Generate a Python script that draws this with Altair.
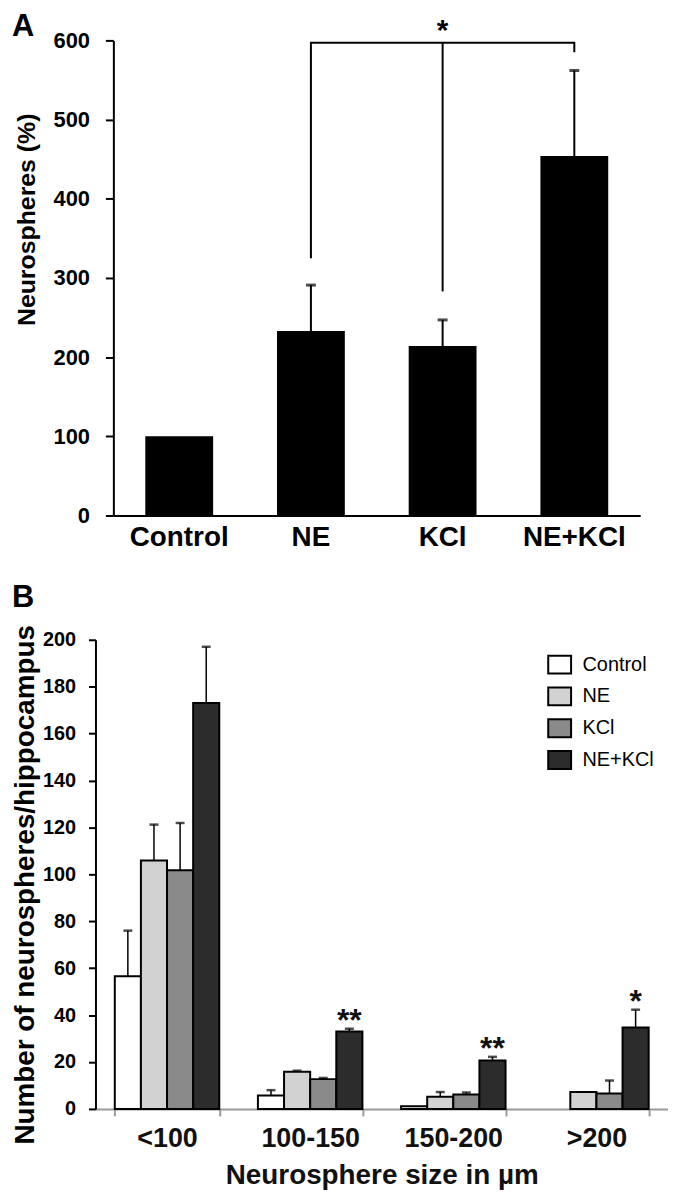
import altair as alt
import pandas as pd

FONT = "Liberation Sans, Arial, Helvetica, sans-serif"

# ---------------- Panel A data ----------------
a_groups = ["Control", "NE", "KCl", "NE+KCl"]
a_values = [100, 233, 214, 454]
a_err_top = [None, 291, 247, 562]
# significance bracket (NE ... NE+KCl) and middle leg at KCl
a_bracket_x = ["NE", "NE", "NE+KCl", "NE+KCl"]
a_bracket_y = [325, 597, 597, 585]
a_mid_x = ["KCl"]
a_mid_low = [283]
a_mid_high = [597]
a_sig_x = ["KCl"]
a_sig_y = [630]
a_sig_text = ["*"]
a_ticks = [0, 100, 200, 300, 400, 500, 600]

# ---------------- Panel B data ----------------
b_sizes = ["<100", "100-150", "150-200", ">200"]
b_treatments = ["Control", "NE", "KCl", "NE+KCl"]
b_control = [56.6, 5.7, 1.1, 0]
b_ne = [105.9, 15.8, 5.2, 7.2]
b_kcl = [101.7, 12.7, 6.1, 6.6]
b_nekcl = [173, 33, 20.6, 34.7]
b_control_err = [76, 8, None, None]
b_ne_err = [121.2, 16.3, 7.2, None]
b_kcl_err = [121.9, 13.2, 7.0, 12.1]
b_nekcl_err = [197, 34.2, 22.2, 42.3]
b_sig = ["", "**", "**", "*"]
b_colors = ["#ffffff", "#d2d2d2", "#8a8a8a", "#2c2c2c"]
b_ticks = list(range(0, 201, 20))

# ---------------- Panel A ----------------
dfA = pd.DataFrame({"group": a_groups, "value": a_values, "err": a_err_top})
dfA_br = pd.DataFrame({"group": a_bracket_x, "y": a_bracket_y, "o": [0, 1, 2, 3]})
dfA_mid = pd.DataFrame({"group": a_mid_x, "lo": a_mid_low, "hi": a_mid_high})
dfA_sig = pd.DataFrame({"group": a_sig_x, "y": a_sig_y, "t": a_sig_text})
dfA_letter = pd.DataFrame({"t": ["A"]})

WA, HA = 548, 478
xA = alt.X(
    "group:N", sort=a_groups,
    scale=alt.Scale(domain=a_groups, range=[18, 548], paddingInner=0.485, paddingOuter=0.2425),
    axis=alt.Axis(title=None, labelFont=FONT, labelFontSize=28, labelFontWeight="bold",
                  labelColor="black", labelAngle=0, labelPadding=8, ticks=False,
                  domainColor="black", domainWidth=2),
)
yA_scale = alt.Scale(domain=[0, 600], nice=False)
yA_axis = alt.Axis(
    title="Neurospheres (%)", values=a_ticks, offset=-18,
    titleFont=FONT, titleFontSize=25, titleFontWeight="bold", titleColor="black",
    titleAngle=270, titleAlign="center", titleBaseline="middle", titleX=-87, titleY=180,
    labelFont=FONT, labelFontSize=22, labelFontWeight="bold", labelColor="black",
    labelPadding=16, tickSize=8, tickWidth=2, tickColor="black",
    domainColor="black", domainWidth=2,
)

barsA = alt.Chart(dfA).mark_bar(color="black").encode(
    x=xA, y=alt.Y("value:Q", scale=yA_scale, axis=yA_axis)
)
errA = alt.Chart(dfA).transform_filter("isValid(datum.err)").mark_rule(color="black", strokeWidth=2).encode(
    x=alt.X("group:N", sort=a_groups), y="value:Q", y2="err:Q"
)
capA = alt.Chart(dfA).transform_filter("isValid(datum.err)").mark_tick(color="black", thickness=3, size=10).encode(
    x=alt.X("group:N", sort=a_groups), y="err:Q"
)
brA = alt.Chart(dfA_br).mark_line(color="black", strokeWidth=2).encode(
    x=alt.X("group:N", sort=a_groups), y="y:Q", order="o:Q"
)
midA = alt.Chart(dfA_mid).mark_rule(color="black", strokeWidth=2).encode(
    x=alt.X("group:N", sort=a_groups), y="lo:Q", y2="hi:Q"
)
sigA = alt.Chart(dfA_sig).mark_text(font=FONT, fontSize=30, fontWeight="bold", color="black",
                                     baseline="top").encode(
    x=alt.X("group:N", sort=a_groups), y="y:Q", text="t:N"
)
letterA = alt.Chart(dfA_letter).mark_text(font=FONT, fontSize=31, fontWeight="bold", color="black",
                                           align="left", baseline="top").encode(
    x=alt.value(-84), y=alt.value(-28), text="t:N"
)

panelA = alt.layer(barsA, errA, capA, brA, midA, sigA, letterA).properties(width=WA, height=HA)

# ---------------- Panel B ----------------
rows = []
vals = [b_control, b_ne, b_kcl, b_nekcl]
errs = [b_control_err, b_ne_err, b_kcl_err, b_nekcl_err]
for i, s in enumerate(b_sizes):
    for j, t in enumerate(b_treatments):
        rows.append({"size": s, "treatment": t, "value": vals[j][i], "err": errs[j][i]})
dfB = pd.DataFrame(rows)
dfB_sig = pd.DataFrame({"size": b_sizes, "treatment": ["NE+KCl"] * 4,
                        "y": b_nekcl_err, "t": b_sig})
dfB_letter = pd.DataFrame({"t": ["B"]})

WB, HB = 576, 472
xB = alt.X(
    "size:N", sort=b_sizes,
    scale=alt.Scale(domain=b_sizes, paddingInner=0.27, paddingOuter=0.135),
    axis=alt.Axis(title="Neurosphere size in µm", labelAngle=0, tickBand="extent",
                  ticks=True, tickColor="#9a9a9a", tickSize=7, tickWidth=2,
                  domainColor="#9a9a9a", domainWidth=2,
                  labelFont=FONT, labelFontSize=27, labelFontWeight="bold", labelColor="#111111",
                  labelPadding=10,
                  titleFont=FONT, titleFontSize=28, titleFontWeight="bold", titleColor="#111111",
                  titlePadding=10),
)
xoB = alt.XOffset("treatment:N", sort=b_treatments,
                  scale=alt.Scale(domain=b_treatments, paddingInner=0, paddingOuter=0))
yB_scale = alt.Scale(domain=[0, 200], nice=False)
yB_axis = alt.Axis(
    title="Number of neurospheres/hippocampus", values=b_ticks,
    titleFont=FONT, titleFontSize=28, titleFontWeight="bold", titleColor="black",
    titleAngle=270, titleAlign="center", titleBaseline="middle", titleX=-70, titleY=246,
    labelFont=FONT, labelFontSize=20, labelFontWeight="bold", labelColor="black",
    labelPadding=13, tickSize=7, tickWidth=2, tickColor="black",
    domainColor="black", domainWidth=2,
)

barsB = alt.Chart(dfB).transform_filter("datum.value > 0").mark_bar(stroke="black", strokeWidth=2).encode(
    x=xB, xOffset=xoB,
    y=alt.Y("value:Q", scale=yB_scale, axis=yB_axis),
    color=alt.Color("treatment:N", sort=b_treatments,
                    scale=alt.Scale(domain=b_treatments, range=b_colors),
                    legend=alt.Legend(title=None, orient="none", legendX=456, legendY=14,
                                      symbolType="M-1.15,-0.9H1.15V0.9H-1.15Z", symbolSize=400,
                                      symbolStrokeColor="black", symbolStrokeWidth=2,
                                      symbolOpacity=1,
                                      labelFont=FONT, labelFontSize=20, labelColor="black",
                                      labelOffset=12, rowPadding=6, padding=0)),
)
errB = alt.Chart(dfB).transform_filter("isValid(datum.err)").mark_rule(color="black", strokeWidth=1.5).encode(
    x=alt.X("size:N", sort=b_sizes), xOffset=xoB, y="value:Q", y2="err:Q"
)
capB = alt.Chart(dfB).transform_filter("isValid(datum.err)").mark_tick(color="black", thickness=2.5, size=9).encode(
    x=alt.X("size:N", sort=b_sizes), xOffset=xoB, y="err:Q"
)
sigB = alt.Chart(dfB_sig).mark_text(font=FONT, fontSize=32, fontWeight="bold", color="#111111",
                                     baseline="alphabetic", dy=2).encode(
    x=alt.X("size:N", sort=b_sizes), xOffset=xoB, y="y:Q", text="t:N"
)
letterB = alt.Chart(dfB_letter).mark_text(font=FONT, fontSize=31, fontWeight="bold", color="black",
                                           align="left", baseline="top").encode(
    x=alt.value(-84), y=alt.value(-57), text="t:N"
)

panelB = alt.layer(barsB, errB, capB, sigB, letterB).properties(width=WB, height=HB)

chart = alt.vconcat(panelA, panelB, spacing=31).resolve_legend(color="independent").resolve_scale(
    color="independent"
).properties(
    padding={"left": 3, "top": 0, "right": 0, "bottom": 0}
).configure_axis(grid=False).configure_view(stroke=None)

chart.save("out.html", embed_options={"renderer": "svg", "actions": False})
